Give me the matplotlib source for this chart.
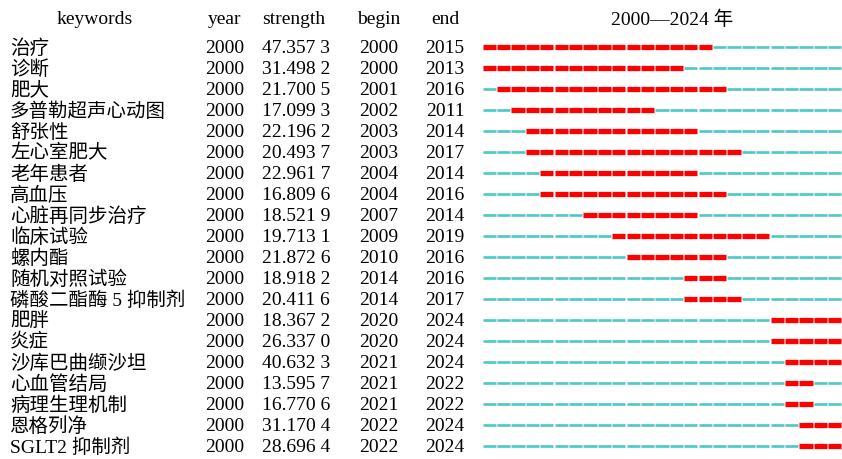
import matplotlib.pyplot as plt
import matplotlib.transforms as mtransforms

plt.rcParams['font.family'] = ['Liberation Serif', 'Noto Sans CJK SC']

keywords = ['治疗', '诊断', '肥大', '多普勒超声心动图', '舒张性', '左心室肥大', '老年患者', '高血压',
            '心脏再同步治疗', '临床试验', '螺内酯', '随机对照试验', '磷酸二酯酶 5 抑制剂', '肥胖',
            '炎症', '沙库巴曲缬沙坦', '心血管结局', '病理生理机制', '恩格列净', 'SGLT2 抑制剂']
year = [2000] * 20
strength = ['47.357 3', '31.498 2', '21.700 5', '17.099 3', '22.196 2', '20.493 7', '22.961 7',
            '16.809 6', '18.521 9', '19.713 1', '21.872 6', '18.918 2', '20.411 6', '18.367 2',
            '26.337 0', '40.632 3', '13.595 7', '16.770 6', '31.170 4', '28.696 4']
begin = [2000, 2000, 2001, 2002, 2003, 2003, 2004, 2004, 2007, 2009, 2010, 2014, 2014, 2020,
         2020, 2021, 2021, 2021, 2022, 2022]
end = [2015, 2013, 2016, 2011, 2014, 2017, 2014, 2016, 2014, 2019, 2016, 2016, 2017, 2024,
       2024, 2024, 2022, 2022, 2024, 2024]
first_year, last_year = 2000, 2024

W, H = 842, 459
fig = plt.figure(figsize=(W / 100, H / 100), dpi=100)
n = len(keywords)
row_px = 21
top_px = 47 - row_px / 2
ax = fig.add_axes([482 / W, 1 - (top_px + n * row_px) / H, (W - 482) / W, n * row_px / H])
ax.set_xlim(first_year, last_year + 1)
ax.set_ylim(n - 0.5, -0.5)
ax.axis('off')

gap = 0.04
for i in range(n):
    for y in range(first_year, last_year + 1):
        if begin[i] <= y <= end[i]:
            ax.hlines(i, y + gap, y + 1 - gap, color='#FF0000', lw=3.8)
        else:
            ax.hlines(i, y + gap, y + 1 - gap, color='#4CC8C8', lw=1.9)

tr = mtransforms.blended_transform_factory(fig.transFigure, ax.transData)
fs = 14
for i in range(n):
    yy = i + 0.07
    ax.text(10 / W, yy, keywords[i], transform=tr, ha='left', va='center', fontsize=fs)
    ax.text(225 / W, yy, str(year[i]), transform=tr, ha='center', va='center', fontsize=fs)
    ax.text(296 / W, yy, strength[i], transform=tr, ha='center', va='center', fontsize=fs)
    ax.text(379 / W, yy, str(begin[i]), transform=tr, ha='center', va='center', fontsize=fs)
    ax.text(445 / W, yy, str(end[i]), transform=tr, ha='center', va='center', fontsize=fs)

hy = 1 - 20 / H
for x, s in [(95, 'keywords'), (225, 'year'), (294, 'strength'), (379, 'begin'), (445, 'end'),
             (672, f'{first_year}—{last_year} 年')]:
    fig.text(x / W, hy, s, ha='center', va='center', fontsize=fs)

fig.savefig('out.png', dpi=100)
